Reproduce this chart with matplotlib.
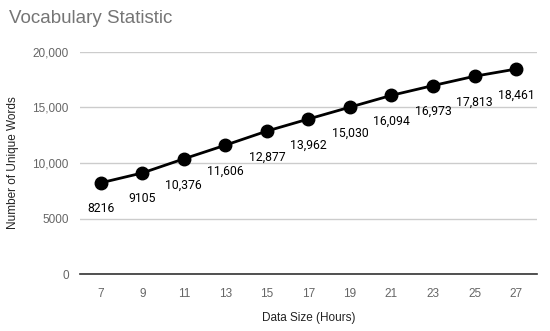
import matplotlib
matplotlib.use("Agg")
import matplotlib.pyplot as plt

hours = [7, 9, 11, 13, 15, 17, 19, 21, 23, 25, 27]
unique_words = [8216, 9105, 10376, 11606, 12877, 13962, 15030, 16094, 16973, 17813, 18461]
y_ticks = [0, 5000, 10000, 15000, 20000]
y_tick_labels = ["0", "5000", "10,000", "15,000", "20,000"]

plt.rcParams["font.family"] = ["Liberation Sans", "DejaVu Sans"]

fig = plt.figure(figsize=(5.5, 3.31), dpi=100)
ax = fig.add_axes([0.1455, 0.172, 0.8305, 0.671])

ax.plot(hours, unique_words, color="black", lw=2, marker="o", ms=9, zorder=3)
for x, y in zip(hours, unique_words):
    lbl = f"{y:,}" if y >= 10000 else str(y)
    ax.annotate(lbl, (x, y), xytext=(0, -14), textcoords="offset points",
                ha="center", va="top", fontsize=8.8, color="black",
                family=["Roboto", "DejaVu Sans"])

ax.set_xlim(6, 28)
ax.set_ylim(0, 20000)
ax.set_xticks(hours)
ax.set_yticks(y_ticks)
ax.set_yticklabels(y_tick_labels)
ax.grid(axis="y", color="#cccccc", lw=1)
ax.set_axisbelow(True)
for s in ["top", "right", "left"]:
    ax.spines[s].set_visible(False)
ax.spines["bottom"].set_color("#333333")
ax.spines["bottom"].set_linewidth(1.2)
ax.tick_params(length=0, labelsize=8.5, colors="#666666", pad=8)
ax.tick_params(axis="x", pad=10)

ax.set_xlabel("Data Size (Hours)", fontsize=8.5, color="#222222", labelpad=9)
ax.set_ylabel("Number of Unique Words", fontsize=8.5, color="#222222", labelpad=10)
fig.text(0.016, 0.945, "Vocabulary Statistic", fontsize=13.5, color="#757575", va="center")

fig.savefig("out.png", dpi=100)
